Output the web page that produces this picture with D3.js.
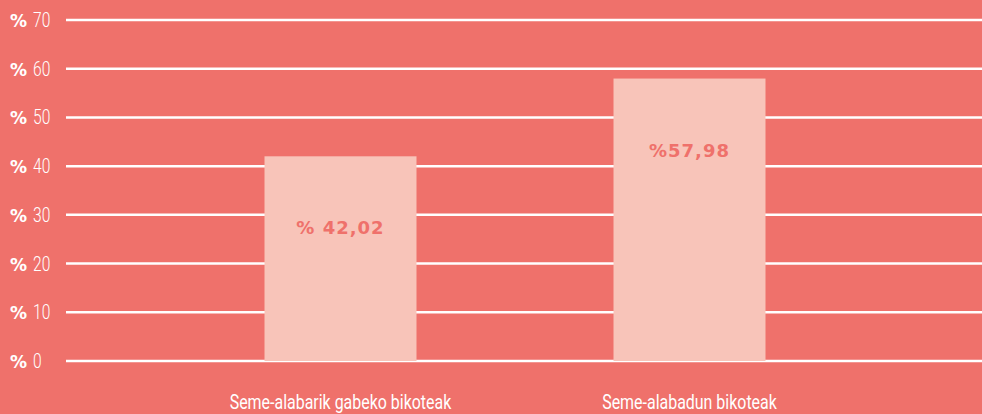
<!DOCTYPE html>
<html lang="eu">
<head>
	<meta charset="UTF-8">
	<title>Bikoteak</title>
	<script src="https://cdn.jsdelivr.net/npm/d3@7"></script>
	<style>
		html, body { margin: 0; padding: 0; background: #ef716b; }
		svg { display: block; }
		.grid line { stroke: #fff; stroke-width: 2.5; }
		.tick-pct { font-family: "DejaVu Sans", sans-serif; font-weight: bold; fill: #fff; font-size: 17px; }
		.tick-num { font-family: Roboto, sans-serif; font-weight: 300; fill: #fff; font-size: 20px; }
		.cat { font-family: Roboto, sans-serif; font-weight: 400; fill: #fff; font-size: 21px; }
		.val { font-family: "DejaVu Sans", sans-serif; font-weight: bold; fill: #ef716b; font-size: 18px; letter-spacing: 1px; }
	</style>
</head>
<body>
	<svg width="982" height="414"></svg>
	<script>
		var categories = ["Seme-alabarik gabeko bikoteak", "Seme-alabadun bikoteak"];
		var values = [42.02, 57.98];
		var valueLabels = ["% 42,02", "%57,98"];
		var ticks = [0, 10, 20, 30, 40, 50, 60, 70];

		var svg = d3.select("svg");

		var y = d3.scaleLinear().domain([0, 70]).range([361, 20]);
		var x = d3.scaleBand().domain(categories)
			.range([90, 940])
			.paddingInner(0.5645)
			.paddingOuter(0.5);

		// grid
		var grid = svg.append("g").attr("class", "grid");
		grid.selectAll("line").data(ticks).enter().append("line")
			.attr("x1", 66).attr("x2", 982)
			.attr("y1", d => y(d)).attr("y2", d => y(d));

		// tick labels
		var tl = svg.append("g").selectAll("g").data(ticks).enter().append("g")
			.attr("transform", d => "translate(0," + (y(d) + 7) + ")");
		tl.append("text").attr("class", "tick-pct").attr("x", 10).text("%");
		tl.append("text").attr("class", "tick-num")
			.attr("transform", "translate(33,0) scale(0.78,1)")
			.text(d => d);

		// bars
		svg.append("g").selectAll("rect").data(values).enter().append("rect")
			.attr("x", (d, i) => x(categories[i]))
			.attr("width", x.bandwidth())
			.attr("y", d => y(d))
			.attr("height", d => y(0) - y(d))
			.attr("fill", "#f8c4b9");

		// value labels
		svg.append("g").selectAll("text").data(values).enter().append("text")
			.attr("class", "val")
			.attr("text-anchor", "middle")
			.attr("x", (d, i) => x(categories[i]) + x.bandwidth() / 2)
			.attr("y", d => y(d) + 78)
			.text((d, i) => valueLabels[i]);

		// category labels (condensed look)
		svg.append("g").selectAll("text").data(categories).enter().append("text")
			.attr("class", "cat")
			.attr("text-anchor", "middle")
			.attr("transform", d => "translate(" + (x(d) + x.bandwidth() / 2) + ",409) scale(0.76,1)")
			.text(d => d);
	</script>
</body>
</html>
